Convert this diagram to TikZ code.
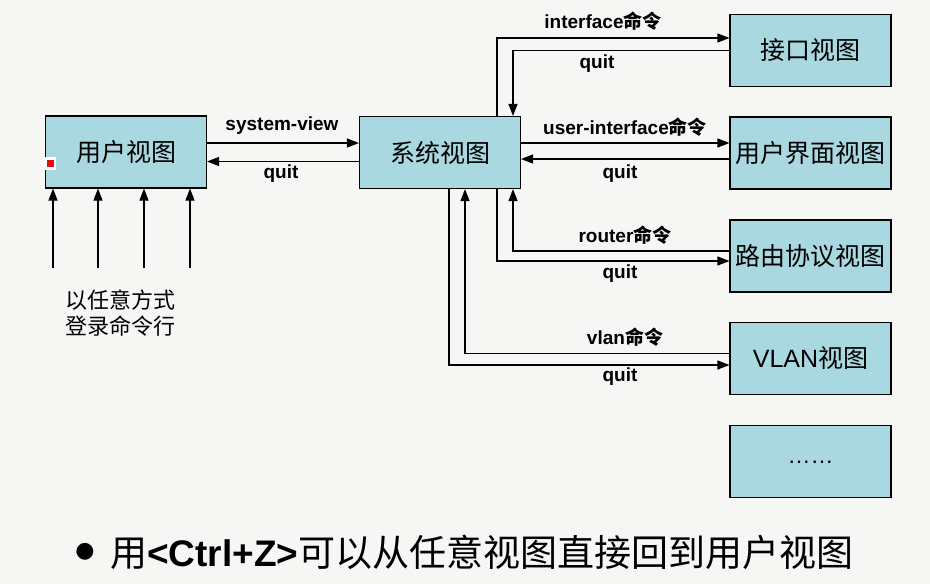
\documentclass[tikz,border=0pt]{standalone}
\usepackage{fontspec}
\setmainfont{Liberation Sans}
\newfontfamily\cjk{Noto Sans CJK SC}
\newfontfamily\dejavu{DejaVu Sans}
\usetikzlibrary{arrows.meta}
\definecolor{bg}{RGB}{246,246,244}
\definecolor{boxfill}{RGB}{170,216,224}
\definecolor{mkred}{RGB}{230,10,10}
\newcommand\lbl[2]{{\bfseries #1}{\cjk\bfseries #2}}
\begin{document}
\begin{tikzpicture}[x=1pt,y=-1pt,
  viewbox/.style={draw=black,line width=1.1pt,fill=boxfill,minimum width=161pt,minimum height=72pt,inner sep=0pt,
     font=\cjk\fontsize{25}{28}\selectfont},
  arr/.style={line width=1.1pt,-{Triangle[length=12pt,width=9pt]}},
  lab/.style={inner sep=0pt,font=\fontsize{19}{22}\selectfont}]
\fill[bg] (0,0) rectangle (930,584);
\useasboundingbox (0,0) rectangle (930,584);
% boxes
\node[viewbox] (uv) at (126,152) {用户视图};
\node[viewbox] (sv) at (440,152.5) {系统视图};
\node[viewbox] (if) at (810.5,50.5) {接口视图};
\node[viewbox] (ui) at (810.5,153) {用户界面视图};
\node[viewbox] (rt) at (810.5,256) {路由协议视图};
\node[viewbox] (vl) at (810.5,358.5) {{\rmfamily VLAN}视图};
\node[viewbox] (mo) at (810.5,461.5) {\rmfamily\fontsize{23}{24}\selectfont\raisebox{-4pt}{……}};
% red marker
\fill[white] (44,157) rectangle (56,170);
\fill[mkred] (47,160) rectangle (54,167);
% user view <-> system view
\draw[arr] ([yshift=9pt]uv.east) -- ([yshift=9pt]uv.east -| sv.west);
\draw[arr] ([yshift=-9pt]sv.west) -- ([yshift=-9pt]sv.west -| uv.east);
\node[lab] (l1) at (282,126) {\bfseries system-view};
\node[lab] (l2) at (281,174) {\bfseries quit};
% interface
\draw[arr] ([xshift=57pt]sv.north) |- ([yshift=12.5pt]if.west);
\draw[arr] (if.west) -| ([xshift=73pt]sv.north);
\node[lab] (l3) at (603,21) {\lbl{interface}{命令}};
\node[lab] (l4) at (597,64) {\bfseries quit};
% user-interface
\draw[arr] ([yshift=9.5pt]sv.east) -- ([yshift=9.5pt]sv.east -| ui.west);
\draw[arr] ([yshift=-6.5pt]sv.east -| ui.west) -- ([yshift=-6.5pt]sv.east);
\node[lab] (l5) at (625,127) {\lbl{user-interface}{命令}};
\node[lab] (l6) at (620,174) {\bfseries quit};
% router
\draw[arr] ([yshift=5pt]rt.west) -| ([xshift=73pt]sv.south);
\draw[arr] ([xshift=57pt]sv.south) |- ([yshift=-5pt]rt.west);
\node[lab] (l7) at (625,235) {\lbl{router}{命令}};
\node[lab] (l8) at (620,274) {\bfseries quit};
% vlan
\draw[arr] ([yshift=5pt]vl.west) -| ([xshift=25pt]sv.south);
\draw[arr] ([xshift=9pt]sv.south) |- ([yshift=-6.5pt]vl.west);
\node[lab] (l9) at (625,337) {\lbl{vlan}{命令}};
\node[lab] (l10) at (620,377) {\bfseries quit};
% login arrows
\coordinate (a1) at (53,268);
\coordinate (a2) at (98,268);
\coordinate (a3) at (144,268);
\coordinate (a4) at (190,268);
\foreach \c in {a1,a2,a3,a4} \draw[arr] (\c) -- (\c |- uv.south);
\node[inner sep=0pt,align=center,font=\cjk\fontsize{22}{26}\selectfont] (login) at (120,313) {以任意方式\\登录命令行};
% bottom line
\node[inner sep=0pt,font=\dejavu\fontsize{22}{26}\selectfont] (bul) at (85,552) {●};
\node[anchor=west,inner sep=0pt,font=\cjk\fontsize{37}{40}\selectfont] (note) at (110,552)
  {用{\rmfamily\bfseries\fontsize{37}{40}\selectfont <Ctrl+Z>}可以从任意视图直接回到用户视图};
\end{tikzpicture}
\end{document}
